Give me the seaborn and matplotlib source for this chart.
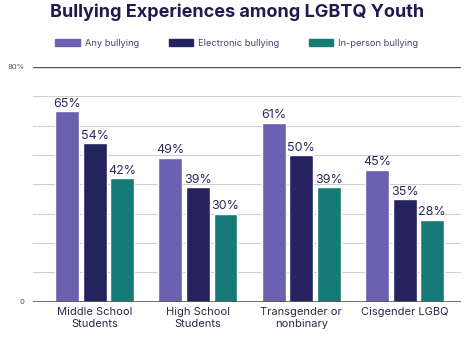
import matplotlib
matplotlib.use("Agg")
import matplotlib.pyplot as plt
import seaborn as sns
import pandas as pd

categories = ["Middle School\nStudents", "High School\nStudents", "Transgender or\nnonbinary", "Cisgender LGBQ"]
series = ["Any bullying", "Electronic bullying", "In-person bullying"]
any_bullying = [65, 49, 61, 45]
electronic_bullying = [54, 39, 50, 35]
in_person_bullying = [42, 30, 39, 28]
colors = ["#6B60B0", "#24225F", "#167A78"]

df = pd.DataFrame({
    "category": categories * 3,
    "series": [series[0]] * 4 + [series[1]] * 4 + [series[2]] * 4,
    "value": any_bullying + electronic_bullying + in_person_bullying,
})

sns.set_theme(style="white")
plt.rcParams["font.family"] = ["Inter", "DejaVu Sans"]

fig = plt.figure(figsize=(4.74, 3.41), dpi=100)
ax = fig.add_axes([0.07, 0.115, 0.903, 0.689])

sns.barplot(data=df, x="category", y="value", hue="series", palette=colors,
            width=0.8, gap=0.13, ax=ax, legend=False, saturation=1)

for cont in ax.containers:
    ax.bar_label(cont, labels=[f"{v:.0f}%" for v in cont.datavalues],
                 padding=1, fontsize=9, color="#2a2a5a")

ax.set_ylim(0, 80)
ax.set_xlim(-0.595, 3.548)
ax.set_yticks([0, 80])
ax.set_yticklabels(["0", "80%"], fontsize=5.5, color="#555555")
for y in range(10, 80, 10):
    ax.axhline(y, color="#cfcfcf", lw=0.8, zorder=0)
ax.axhline(80, color="#555555", lw=1.0, zorder=0)
ax.axhline(0, color="#555555", lw=1.2, zorder=3)
for s in ax.spines.values():
    s.set_visible(False)
ax.tick_params(axis="y", length=0, pad=6)
ax.tick_params(axis="x", length=0, pad=4, labelsize=8, labelcolor="#2a2a4a")
ax.set_xlabel("")
ax.set_ylabel("")

fig.text(0.5, 0.963, "Bullying Experiences among LGBTQ Youth", ha="center", va="center",
         fontsize=13, fontweight="bold", color="#1E1C4E")

handles = [plt.Rectangle((0, 0), 1, 1, color=c) for c in colors]
fig.legend(handles, series, loc="center", bbox_to_anchor=(0.5, 0.873), ncol=3,
           frameon=False, fontsize=6.7, handlelength=2.6, handleheight=0.8,
           columnspacing=3.2, handletextpad=0.55, labelcolor="#444466")

fig.savefig("out.png", dpi=100)
